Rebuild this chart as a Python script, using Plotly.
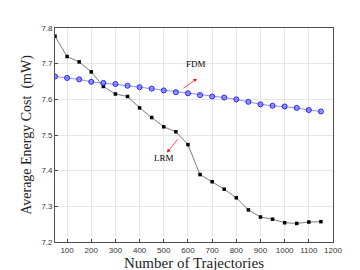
import plotly.graph_objects as go

trajectories = [50, 100, 150, 200, 250, 300, 350, 400, 450, 500, 550, 600,
                650, 700, 750, 800, 850, 900, 950, 1000, 1050, 1100, 1150]
lrm_cost = [7.777, 7.720, 7.705, 7.677, 7.636, 7.615, 7.608, 7.576, 7.549, 7.523, 7.509, 7.473,
            7.389, 7.369, 7.348, 7.324, 7.290, 7.270, 7.264, 7.254, 7.252, 7.256, 7.257]
fdm_cost = [7.664, 7.660, 7.656, 7.649, 7.646, 7.643, 7.638, 7.634, 7.630, 7.625, 7.620, 7.617,
            7.612, 7.608, 7.605, 7.600, 7.593, 7.586, 7.582, 7.580, 7.576, 7.570, 7.566]
x_ticks = [100, 200, 300, 400, 500, 600, 700, 800, 900, 1000, 1100, 1200]
y_ticks = [7.2, 7.3, 7.4, 7.5, 7.6, 7.7, 7.8]

fig = go.Figure()
fig.add_trace(go.Scatter(x=trajectories, y=lrm_cost, mode="lines+markers", name="LRM",
                         line=dict(color="#444444", width=0.7),
                         marker=dict(symbol="square", size=3.5, color="black")))
fig.add_trace(go.Scatter(x=trajectories, y=fdm_cost, mode="lines+markers", name="FDM",
                         line=dict(color="#7070ff", width=0.8),
                         marker=dict(symbol="circle", size=5, color="rgba(90,90,255,0.55)",
                                     line=dict(color="#2020ff", width=1))))

serif = "Liberation Serif, DejaVu Serif, serif"
fig.add_annotation(x=637, y=7.658, ax=575, ay=7.628, axref="x", ayref="y", xref="x", yref="y",
                   text="", showarrow=True, arrowhead=2, arrowsize=1, arrowwidth=0.7, arrowcolor="red")
fig.add_annotation(x=632, y=7.698, text="FDM", showarrow=False,
                   font=dict(family=serif, size=9, color="black"))
fig.add_annotation(x=513, y=7.451, ax=563, ay=7.492, axref="x", ayref="y", xref="x", yref="y",
                   text="", showarrow=True, arrowhead=2, arrowsize=1, arrowwidth=0.7, arrowcolor="red")
fig.add_annotation(x=500, y=7.435, text="LRM", showarrow=False,
                   font=dict(family=serif, size=9, color="black"))

fig.update_layout(
    width=360, height=270,
    margin=dict(l=47, r=35, t=20, b=30),
    paper_bgcolor="white", plot_bgcolor="white",
    showlegend=False,
    xaxis=dict(range=[50, 1200], tickvals=x_ticks, ticks="inside", ticklen=3,
               showgrid=True, gridcolor="#e6e6e6", gridwidth=0.8,
               showline=True, linecolor="#4d4d4d", linewidth=0.8, mirror=True,
               tickfont=dict(family="Liberation Sans, Arial, sans-serif", size=8, color="#333333"),
               title=dict(text="Number of Trajectories", standoff=1,
                          font=dict(family=serif, size=15, color="#222222")),
               zeroline=False),
    yaxis=dict(range=[7.2, 7.8], tickvals=y_ticks, tickformat=".1f", ticks="inside", ticklen=3,
               showgrid=True, gridcolor="#e6e6e6", gridwidth=0.8,
               showline=True, linecolor="#4d4d4d", linewidth=0.8, mirror=True,
               tickfont=dict(family="Liberation Sans, Arial, sans-serif", size=8, color="#333333"),
               title=dict(text="Average Energy Cost  (mW)", standoff=6,
                          font=dict(family=serif, size=14, color="#222222")),
               zeroline=False),
)

fig.write_html("out.html")
